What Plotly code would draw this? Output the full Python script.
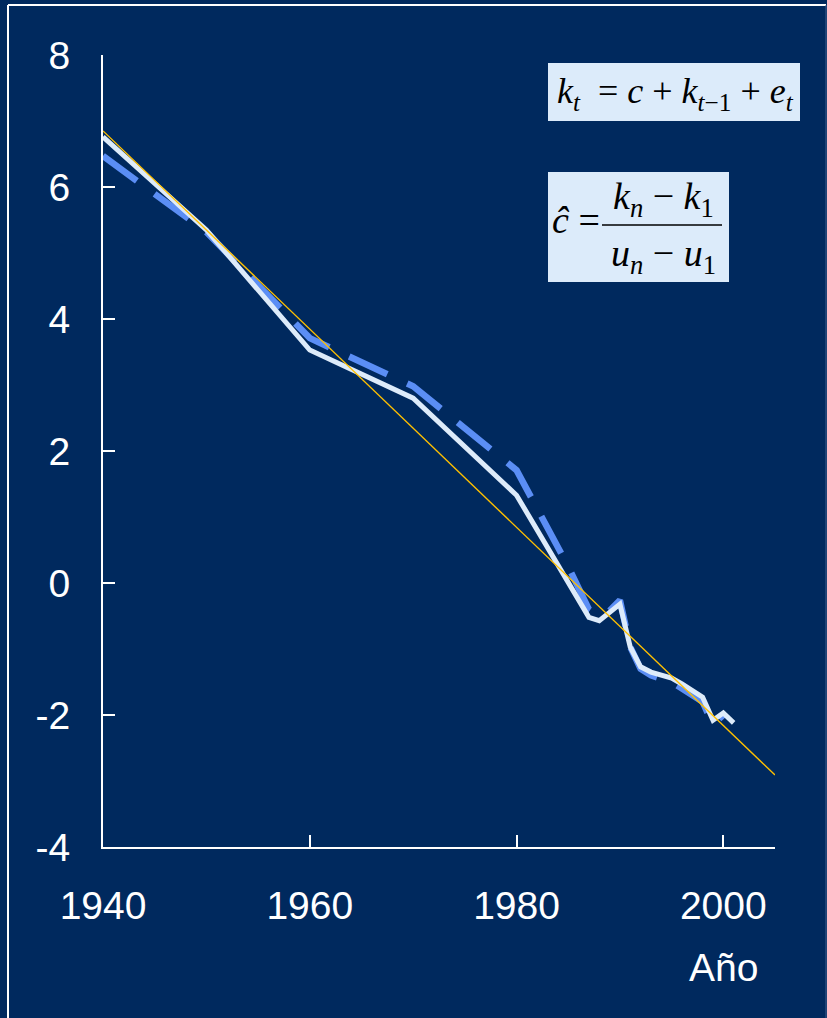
import plotly.graph_objects as go

# ---- data ----
years = [1940, 1950, 1960, 1970, 1980, 1985, 1987, 1988, 1989, 1990, 1991,
         1992, 1993, 1994, 1995, 1996, 1997, 1998, 1999, 2000, 2001]
k_observed = [6.76, 5.35, 3.53, 2.80, 1.33, 0.00, -0.52, -0.57, -0.45, -0.32, -0.97,
              -1.27, -1.35, -1.40, -1.44, -1.53, -1.63, -1.73, -2.08, -1.97, -2.12]
k_fitted = [6.47, 5.32, 3.71, 2.98, 1.71, 0.25, -0.40, -0.50, -0.42, -0.26, -0.97,
            -1.30, -1.40, -1.46, -1.50, -1.60, -1.70, -1.80, -2.15, -2.00, None]
trend_years = [1940, 2005]
trend_values = [6.85, -2.91]

x_ticks = [1940, 1960, 1980, 2000]
y_ticks = [-4, -2, 0, 2, 4, 6, 8]
y_tick_labels = ["-4", "-2", "0", "2", "4", "6", "8"]

NAVY = "#00295E"
W, H = 827, 1018
L, R, T, B = 103, 52, 55, 171
PW, PH = W - L - R, H - T - B


def px(x):
    return (x - L) / PW


def py(y):
    return (H - B - y) / PH


fig = go.Figure()
fig.add_trace(go.Scatter(x=years, y=k_fitted, mode="lines",
                         line=dict(color="#5B8EF5", width=6.5, dash="42px,22px"),
                         connectgaps=False, showlegend=False))
fig.add_trace(go.Scatter(x=years, y=k_observed, mode="lines",
                         line=dict(color="#DDEBFA", width=5), showlegend=False))
fig.add_trace(go.Scatter(x=trend_years, y=trend_values, mode="lines",
                         line=dict(color="#FFC000", width=1.4), showlegend=False))

tickfont = dict(family="Liberation Sans, Arial", size=39, color="white")

fig.update_xaxes(range=[1940, 2005], tickvals=x_ticks, ticktext=[str(v) for v in x_ticks],
                 showline=True, linecolor="white", linewidth=2, ticks="inside",
                 ticklen=12, tickwidth=2, tickcolor="white", showgrid=False,
                 zeroline=False, tickfont=tickfont, ticklabelstandoff=23)
fig.update_yaxes(range=[-4, 8], tickvals=y_ticks, ticktext=y_tick_labels,
                 showline=True, linecolor="white", linewidth=2, ticks="inside",
                 ticklen=12, tickwidth=2, tickcolor="white", showgrid=False,
                 zeroline=False, tickfont=tickfont, ticklabelstandoff=23)

shapes = [
    # frame
    dict(type="line", xref="paper", yref="paper", x0=px(8), x1=px(8), y0=py(5), y1=py(1030),
         line=dict(color="white", width=2)),
    dict(type="line", xref="paper", yref="paper", x0=px(8), x1=px(826), y0=py(5), y1=py(5),
         line=dict(color="white", width=2)),
    dict(type="line", xref="paper", yref="paper", x0=px(826), x1=px(826), y0=py(5), y1=py(1030),
         line=dict(color="#3E5F8E", width=1)),
    # formula boxes
    dict(type="rect", xref="paper", yref="paper", x0=px(548), x1=px(800), y0=py(121), y1=py(63),
         fillcolor="#DCEBFA", line=dict(width=0), layer="above"),
    dict(type="rect", xref="paper", yref="paper", x0=px(548), x1=px(729), y0=py(282), y1=py(172),
         fillcolor="#DCEBFA", line=dict(width=0), layer="above"),
    # fraction bar
    dict(type="line", xref="paper", yref="paper", x0=px(602), x1=px(722), y0=py(225), y1=py(225),
         line=dict(color="black", width=1.5), layer="above"),
]

serif = dict(family="Liberation Serif, Times New Roman", size=36, color="black")
serif_big = dict(family="Liberation Serif, Times New Roman", size=38, color="black")
annotations = [
    dict(text="<i>k<sub>t</sub></i>  = <i>c</i> + <i>k</i><sub><i>t</i>\u22121</sub> + <i>e<sub>t</sub></i>",
         x=px(675), y=py(93), xref="paper", yref="paper", showarrow=False,
         xanchor="center", yanchor="middle", font=serif),
    dict(text="<i>\u0109</i> =", x=px(576), y=py(220), xref="paper", yref="paper",
         showarrow=False, xanchor="center", yanchor="middle", font=serif_big),
    dict(text="<i>k<sub>n</sub></i> \u2212 <i>k</i><sub>1</sub>", x=px(663), y=py(199),
         xref="paper", yref="paper", showarrow=False, xanchor="center", yanchor="middle", font=serif_big),
    dict(text="<i>u<sub>n</sub></i> \u2212 <i>u</i><sub>1</sub>", x=px(663), y=py(256),
         xref="paper", yref="paper", showarrow=False, xanchor="center", yanchor="middle", font=serif_big),
    dict(text="Año", x=px(723), y=py(968), xref="paper", yref="paper", showarrow=False,
         xanchor="center", yanchor="middle", font=tickfont),
]

fig.update_layout(width=W, height=H, margin=dict(l=L, r=R, t=T, b=B),
                  paper_bgcolor=NAVY, plot_bgcolor=NAVY,
                  shapes=shapes, annotations=annotations, showlegend=False)

fig.write_html("out.html")
